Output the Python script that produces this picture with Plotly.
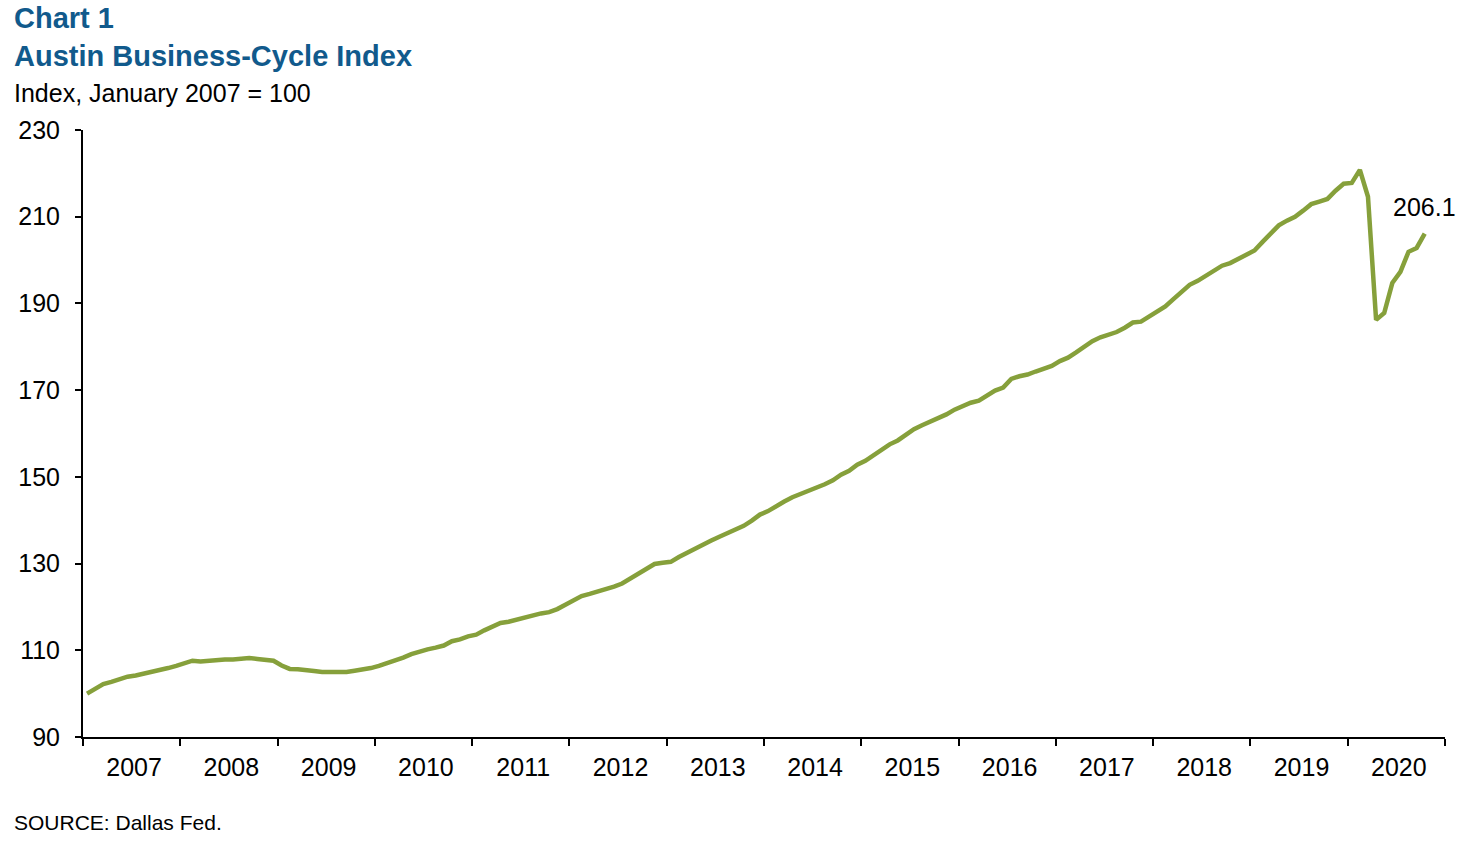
import plotly.graph_objects as go

# Austin Business-Cycle Index, monthly (Jan 2007 = 100)
v2007 = [100.0, 101.1, 102.2, 102.7, 103.3, 103.9, 104.2, 104.6, 104.9, 105.4, 105.9, 106.4]
v2008 = [107.0, 107.6, 107.4, 107.6, 107.9, 107.9, 107.9, 108.1, 108.2, 108.0, 107.8, 107.6]
v2009 = [106.5, 105.7, 105.6, 105.5, 105.2, 105.0, 105.0, 105.0, 105.0, 105.3, 105.5, 105.9]
v2010 = [106.4, 107.0, 107.8, 108.3, 109.1, 109.7, 110.2, 110.6, 111.1, 112.1, 112.5, 113.2]
v2011 = [113.6, 114.6, 115.4, 116.3, 116.6, 117.1, 117.7, 118.1, 118.5, 118.8, 119.5, 120.5]
v2012 = [121.6, 122.5, 123.0, 123.5, 124.0, 124.7, 125.4, 126.5, 127.7, 128.8, 129.9, 130.2]
v2013 = [130.4, 131.5, 132.5, 133.4, 134.3, 135.3, 136.2, 137.1, 137.9, 138.7, 139.9, 141.3]
v2014 = [142.1, 143.3, 144.3, 145.3, 146.0, 146.9, 147.5, 148.3, 149.2, 150.5, 151.4, 152.8]
v2015 = [153.7, 155.0, 156.5, 157.5, 158.4, 159.7, 161.0, 161.9, 162.7, 163.6, 164.4, 165.5]
v2016 = [166.3, 167.1, 167.6, 168.7, 169.9, 170.6, 172.6, 173.2, 173.6, 174.3, 175.0, 175.6]
v2017 = [176.7, 177.5, 178.7, 180.0, 181.3, 182.2, 182.9, 183.4, 184.4, 185.6, 185.8, 187.0]
v2018 = [188.3, 189.3, 191.0, 192.8, 194.3, 195.2, 196.4, 197.5, 198.7, 199.3, 200.3, 201.4]
v2019 = [202.2, 204.2, 206.0, 208.0, 209.1, 210.0, 211.4, 212.9, 213.5, 214.1, 216.0, 217.6]
v2020 = [217.8, 220.8, 214.6, 186.2, 187.8, 194.7, 197.3, 201.9, 202.8, 206.1]

year_labels = ["2007", "2008", "2009", "2010", "2011", "2012", "2013",
               "2014", "2015", "2016", "2017", "2018", "2019", "2020"]
y_ticks = [90, 110, 130, 150, 170, 190, 210, 230]
last_label = "206.1"

values = (v2007 + v2008 + v2009 + v2010 + v2011 + v2012 + v2013 + v2014 +
          v2015 + v2016 + v2017 + v2018 + v2019 + v2020)
# month index, centred within each month slot
x = [i + 0.5 for i in range(len(values))]
n_years = len(year_labels)

FONT = "Liberation Sans, Arial, sans-serif"
BLUE = "#115A8C"
GREEN = "#86A03B"

W, H = 1481, 844
ML, MR, MT, MB = 83, 36, 130, 107

fig = go.Figure()
fig.add_trace(go.Scatter(
    x=x, y=values, mode="lines",
    line=dict(color=GREEN, width=4.5),
    hoverinfo="skip", showlegend=False,
))

fig.update_layout(
    width=W, height=H,
    margin=dict(l=ML, r=MR, t=MT, b=MB),
    paper_bgcolor="white", plot_bgcolor="white",
    font=dict(family=FONT, color="black", size=25),
    showlegend=False,
)

fig.update_xaxes(
    range=[0, 12 * n_years],
    tickmode="array",
    tickvals=[12 * k + 6.3 for k in range(n_years)],
    ticktext=year_labels,
    ticks="outside", ticklen=0,
    minor=dict(tickmode="array", tickvals=[12 * k for k in range(n_years + 1)],
               ticks="outside", ticklen=7, tickwidth=2, tickcolor="black",
               showgrid=False),
    showline=True, linecolor="black", linewidth=2,
    showgrid=False, zeroline=False,
    tickfont=dict(size=25, family=FONT, color="black"),
    ticklabelstandoff=7,
    fixedrange=True,
)
fig.update_yaxes(
    range=[90, 230],
    tickmode="array", tickvals=y_ticks,
    ticktext=[str(t) for t in y_ticks],
    ticks="outside", ticklen=6, tickwidth=2, tickcolor="black",
    showline=True, linecolor="black", linewidth=2,
    showgrid=False, zeroline=False,
    tickfont=dict(size=25, family=FONT, color="black"),
    ticklabelstandoff=10,
    fixedrange=True,
)

# Titles and notes (paper coords relative to the plot area)
def px_to_paper_x(px):
    return (px - ML) / (W - ML - MR)

def px_to_paper_y(py):
    return (H - MB - py) / (H - MB - MT)

fig.add_annotation(text="<b>Chart 1</b>", xref="paper", yref="paper",
                   x=px_to_paper_x(12), y=px_to_paper_y(18),
                   xanchor="left", yanchor="middle", showarrow=False,
                   font=dict(size=29, color=BLUE, family=FONT))
fig.add_annotation(text="<b>Austin Business-Cycle Index</b>", xref="paper", yref="paper",
                   x=px_to_paper_x(12), y=px_to_paper_y(56),
                   xanchor="left", yanchor="middle", showarrow=False,
                   font=dict(size=29, color=BLUE, family=FONT))
fig.add_annotation(text="Index, January 2007 = 100", xref="paper", yref="paper",
                   x=px_to_paper_x(12), y=px_to_paper_y(93),
                   xanchor="left", yanchor="middle", showarrow=False,
                   font=dict(size=25, color="black", family=FONT))
fig.add_annotation(text="SOURCE: Dallas Fed.", xref="paper", yref="paper",
                   x=px_to_paper_x(12), y=px_to_paper_y(822),
                   xanchor="left", yanchor="middle", showarrow=False,
                   font=dict(size=21, color="black", family=FONT))

# Label for last value
fig.add_annotation(text=last_label, x=x[-1], y=values[-1],
                   xanchor="center", yanchor="middle", yshift=27,
                   showarrow=False,
                   font=dict(size=25, color="black", family=FONT))

fig.write_html(
    "out.html",
    config=dict(displayModeBar=False, staticPlot=True),
    post_script="document.body.style.margin='0';document.body.style.overflow='hidden';",
)
